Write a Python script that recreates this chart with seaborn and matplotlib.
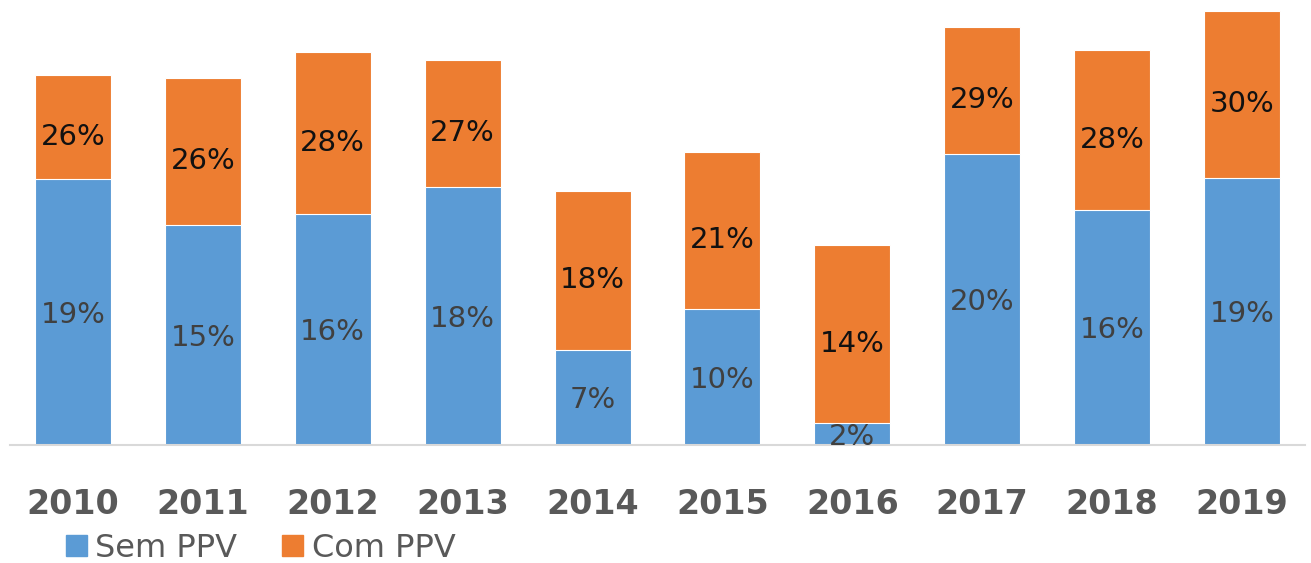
import numpy as np
import pandas as pd
import seaborn as sns
import matplotlib.pyplot as plt
from matplotlib.patches import Patch

# valores (em %)
anos = ['2010', '2011', '2012', '2013', '2014', '2015', '2016', '2017', '2018', '2019']
sem_ppv = [18.5, 15.3, 16.1, 18.0, 6.6, 9.5, 1.5, 20.3, 16.4, 18.6]
total = [25.8, 25.6, 27.4, 26.8, 17.7, 20.4, 13.9, 29.1, 27.5, 30.2]
rot_sem = ['19%', '15%', '16%', '18%', '7%', '10%', '2%', '20%', '16%', '19%']
rot_com = ['26%', '26%', '28%', '27%', '18%', '21%', '14%', '29%', '28%', '30%']

azul = '#5B9BD5'
laranja = '#ED7D31'

df = pd.DataFrame({'ano': anos, 'sem': sem_ppv, 'total': total})

sns.set_style('white')
plt.rcParams['font.family'] = ['DejaVu Sans']

fig = plt.figure(figsize=(13.11, 5.63), dpi=100)
ax = fig.add_axes([0.0076, 0.2096, 0.9878, 0.7904])

sns.barplot(data=df, x='ano', y='total', color=laranja, width=0.585,
            edgecolor='white', linewidth=0.8, saturation=1, ax=ax)
sns.barplot(data=df, x='ano', y='sem', color=azul, width=0.585,
            edgecolor='white', linewidth=0.8, saturation=1, ax=ax)

for i in range(len(anos)):
    ax.annotate(rot_sem[i], (i, sem_ppv[i] / 2), xytext=(0, -2),
                textcoords='offset points', ha='center', va='center',
                fontsize=21, color='#404040')
    ax.annotate(rot_com[i], (i, (sem_ppv[i] + total[i]) / 2), xytext=(0, -7),
                textcoords='offset points', ha='center', va='center',
                fontsize=21, color='#111111')

ax.set_xlim(-0.485, 9.485)
ax.set_ylim(0, 31)
ax.set_xlabel('')
ax.set_ylabel('')
ax.set_yticks([])
for s in ['top', 'right', 'left']:
    ax.spines[s].set_visible(False)
ax.spines['bottom'].set_color('#d9d9d9')
ax.spines['bottom'].set_linewidth(1.5)
ax.tick_params(axis='x', length=0, pad=31, labelsize=24, labelcolor='#595959')
for t in ax.get_xticklabels():
    t.set_fontweight('bold')

handles = [Patch(color=azul, label='Sem PPV'), Patch(color=laranja, label='Com PPV')]
fig.legend(handles=handles, loc='center left', bbox_to_anchor=(0.038, 0.026),
           ncol=2, frameon=False, fontsize=23, labelcolor='#595959',
           handlelength=0.65, handleheight=0.65, handletextpad=0.28,
           columnspacing=1.4, borderpad=0)

fig.savefig('out.png', dpi=100)
